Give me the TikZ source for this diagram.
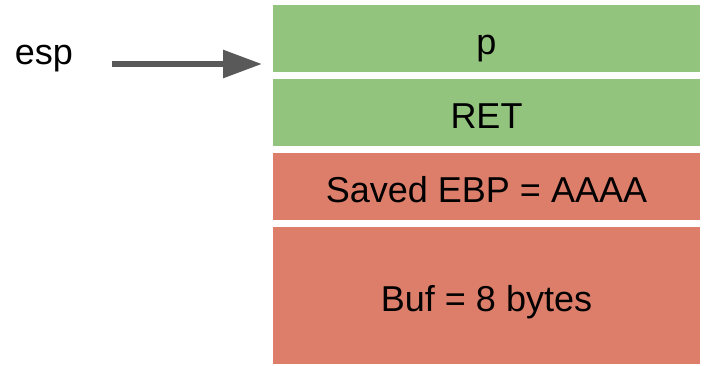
\documentclass[tikz,border=0pt]{standalone}
\usepackage{fontspec}
\setmainfont{Liberation Sans}
\usepackage{tikz}
\usetikzlibrary{positioning}
\usetikzlibrary{arrows.meta}
\usepackage{xcolor}
\definecolor{slotgreen}{HTML}{93C47D}
\definecolor{slotred}{HTML}{DD7E6B}
\definecolor{arrowgrey}{HTML}{595959}

\tikzset{
    slot/.style={minimum width=427pt, minimum height=67pt, inner sep=0pt, outer sep=0pt,
        text height=32pt, text depth=0pt, font=\fontsize{36}{43}\selectfont},
    greenslot/.style={slot, fill=slotgreen},
    redslot/.style={slot, fill=slotred},
}

\begin{document}
\begin{tikzpicture}[x=1pt, y=1pt, node distance=7pt]
    \useasboundingbox (0,0) rectangle (705,366);
    \node[greenslot] (p) at (486.5,327.5) {p};
    \node[greenslot, below=of p] (ret) {RET};
    \node[redslot, below=of ret] (ebp) {Saved EBP = AAAA};
    \node[redslot, below=of ebp, minimum height=137pt] (buf) {Buf = 8 bytes};
    \node[anchor=base, inner sep=0pt, font=\fontsize{36}{43}\selectfont] (esp) at (44,301) {esp};
    \coordinate (tail) at (112,302);
    \coordinate (tip) at (262,302);
    \draw[-{Triangle[length=39pt, width=27pt]}, line width=6pt, arrowgrey] (tail) -- (tip);
\end{tikzpicture}
\end{document}
